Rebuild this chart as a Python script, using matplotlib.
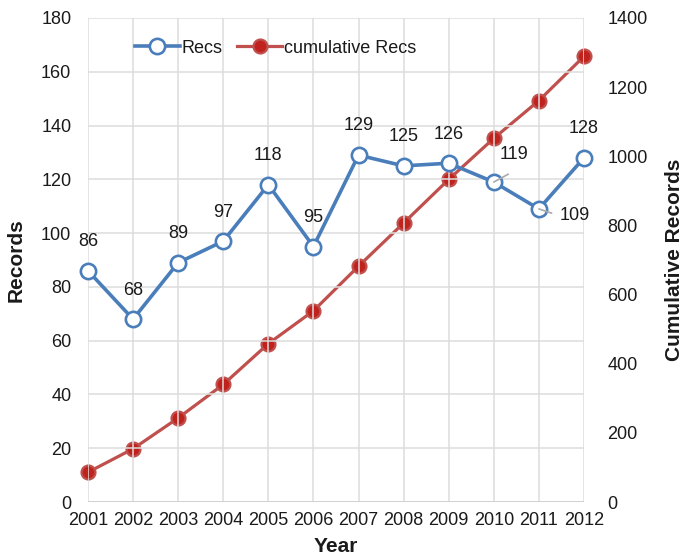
import matplotlib.pyplot as plt

plt.rcParams['font.family'] = ['Liberation Sans', 'DejaVu Sans']

years = [2001, 2002, 2003, 2004, 2005, 2006, 2007, 2008, 2009, 2010, 2011, 2012]
recs = [86, 68, 89, 97, 118, 95, 129, 125, 126, 119, 109, 128]
cum_recs = [86, 154, 243, 340, 458, 553, 682, 807, 933, 1052, 1161, 1289]

blue = '#4a7ebb'
red = '#c0504d'
red_fill = '#c0231d'
txt = '#1a1a1a'

fig = plt.figure(figsize=(6.83, 5.57), dpi=100)
ax = fig.add_axes([0.1288, 0.0987, 0.7262, 0.869])
ax2 = ax.twinx()

x = list(range(len(years)))

ax2.plot(x, cum_recs, color=red, lw=2.3, marker='o', ms=10,
         mfc=red_fill, mec=red, mew=1.6, label='cumulative Recs', zorder=3,
         clip_on=False)
ax.plot(x, recs, color=blue, lw=2.6, marker='o', ms=11,
        mfc='white', mec=blue, mew=1.9, label='Recs', zorder=4, clip_on=False)

# Recs axis drawn above the cumulative axis
ax.set_zorder(ax2.get_zorder() + 1)
ax.patch.set_visible(False)

ax.set_xlim(0, len(years) - 1)
ax.set_ylim(0, 180)
ax.set_yticks(range(0, 181, 20))
ax2.set_ylim(0, 1400)
ax2.set_yticks(range(0, 1401, 200))
ax.set_xticks(x)
ax.set_xticklabels([str(y) for y in years])

ax.grid(True, color='#dcdcdc', lw=1.1)
ax.set_axisbelow(True)
for a in (ax, ax2):
    for s in a.spines.values():
        s.set_visible(False)
    a.tick_params(length=0, labelsize=13, colors=txt)
ax.tick_params(axis='y', pad=12)
ax2.tick_params(axis='y', pad=17)
ax.tick_params(axis='x', pad=7)
ax.axhline(0, color='#d0d0d0', lw=1.3, zorder=1)

ax.set_xlabel('Year', fontsize=15, fontweight='bold', labelpad=6, color=txt)
ax.set_ylabel('Records', fontsize=15, fontweight='bold', labelpad=11, color=txt)
ax2.set_ylabel('Cumulative Records', fontsize=15, fontweight='bold',
               labelpad=12, color=txt)

# data labels
for i, v in enumerate(recs):
    if years[i] == 2010:
        ax.annotate(str(v), xy=(i, v), xytext=(4, 19.5), textcoords='offset points',
                    fontsize=13, ha='left', va='center', color=txt, zorder=6,
                    arrowprops=dict(arrowstyle='-', color='#aaaaaa', lw=1.2,
                                    relpos=(1, 0), shrinkA=12, shrinkB=0))
    elif years[i] == 2011:
        ax.annotate(str(v), xy=(i, v), xytext=(15, -5), textcoords='offset points',
                    fontsize=13, ha='left', va='center', color=txt, zorder=6,
                    arrowprops=dict(arrowstyle='-', color='#aaaaaa', lw=1.2,
                                    relpos=(0, 0.5), shrinkA=4, shrinkB=0))
    else:
        ax.annotate(str(v), xy=(i, v), xytext=(0, 21), textcoords='offset points',
                    fontsize=13, ha='center', va='center', color=txt, zorder=6)

h1, l1 = ax.get_legend_handles_labels()
h2, l2 = ax2.get_legend_handles_labels()
leg = ax.legend(h1 + h2, l1 + l2, loc='center left', bbox_to_anchor=(0.08, 0.938),
                ncol=2, frameon=False, fontsize=13, handlelength=2.5,
                handletextpad=0.1, columnspacing=0.8, borderaxespad=0)
for t in leg.get_texts():
    t.set_color(txt)

fig.savefig('out.png', dpi=100)
